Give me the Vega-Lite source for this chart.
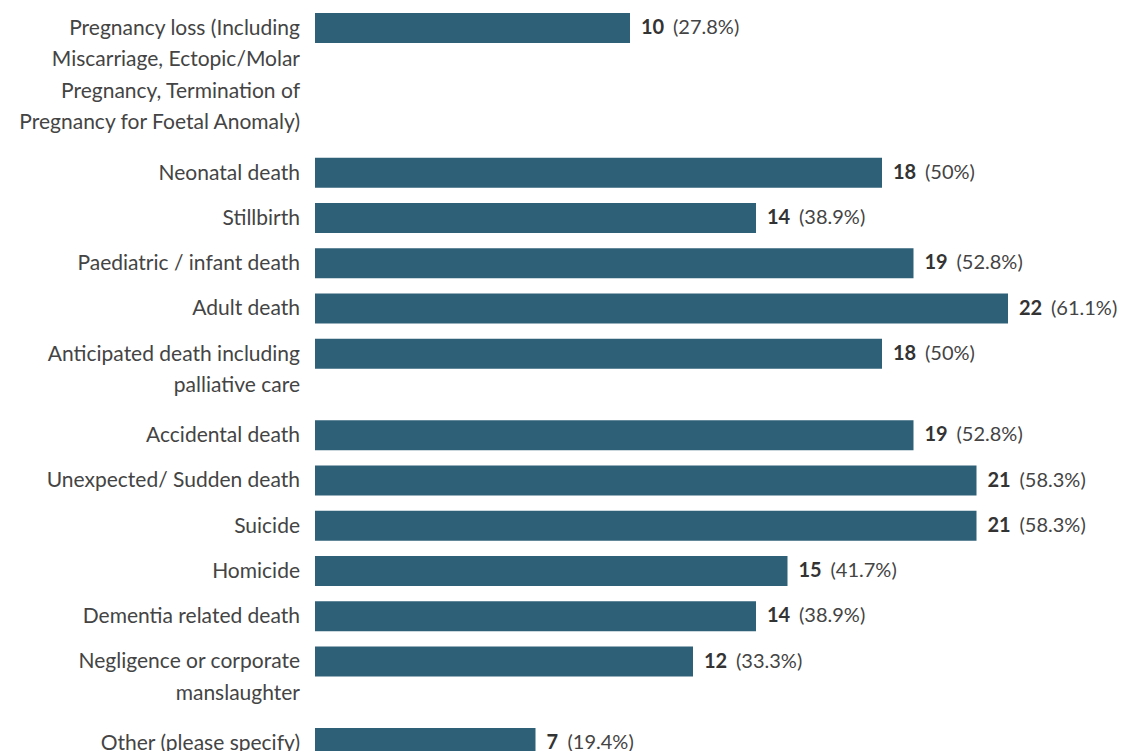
{
  "$schema": "https://vega.github.io/schema/vega-lite/v6.json",
  "width": 693,
  "height": 724,
  "autosize": {"type": "none"},
  "padding": {"left": 315, "top": 23.5, "right": 114, "bottom": 3.5},
  "background": "white",
  "data": {
    "values": [
      {"item": "Pregnancy loss (Including\nMiscarriage, Ectopic/Molar\nPregnancy, Termination of\nPregnancy for Foetal Anomaly)", "count": 10, "pct": 27.8},
      {"item": "Neonatal death", "count": 18, "pct": 50},
      {"item": "Stillbirth", "count": 14, "pct": 38.9},
      {"item": "Paediatric / infant death", "count": 19, "pct": 52.8},
      {"item": "Adult death", "count": 22, "pct": 61.1},
      {"item": "Anticipated death including\npalliative care", "count": 18, "pct": 50},
      {"item": "Accidental death", "count": 19, "pct": 52.8},
      {"item": "Unexpected/ Sudden death", "count": 21, "pct": 58.3},
      {"item": "Suicide", "count": 21, "pct": 58.3},
      {"item": "Homicide", "count": 15, "pct": 41.7},
      {"item": "Dementia related death", "count": 14, "pct": 38.9},
      {"item": "Negligence or corporate\nmanslaughter", "count": 12, "pct": 33.3},
      {"item": "Other (please specify)", "count": 7, "pct": 19.4}
    ]
  },
  "transform": [{"calculate": "'(' + datum.pct + '%)'", "as": "share"}],
  "encoding": {
    "y": {
      "field": "item",
      "type": "nominal",
      "axis": null,
      "sort": null,
      "scale": {
        "paddingInner": 0,
        "paddingOuter": 0,
        "domain": [
          "Pregnancy loss (Including\nMiscarriage, Ectopic/Molar\nPregnancy, Termination of\nPregnancy for Foetal Anomaly)",
          "_1", "_2", "_3", "_4", "_5", "_6", "_7", "_8", "_9", "_10", "_11", "_12", "_13", "_14", "_15",
          "Neonatal death",
          "_16", "_17", "_18", "_19",
          "Stillbirth",
          "_20", "_21", "_22", "_23",
          "Paediatric / infant death",
          "_24", "_25", "_26", "_27",
          "Adult death",
          "_28", "_29", "_30", "_31",
          "Anticipated death including\npalliative care",
          "_32", "_33", "_34", "_35", "_36", "_37", "_38", "_39",
          "Accidental death",
          "_40", "_41", "_42", "_43",
          "Unexpected/ Sudden death",
          "_44", "_45", "_46", "_47",
          "Suicide",
          "_48", "_49", "_50", "_51",
          "Homicide",
          "_52", "_53", "_54", "_55",
          "Dementia related death",
          "_56", "_57", "_58", "_59",
          "Negligence or corporate\nmanslaughter",
          "_60", "_61", "_62", "_63", "_64", "_65", "_66", "_67",
          "Other (please specify)"
        ]
      }
    }
  },
  "layer": [
    {
      "mark": {"type": "bar", "size": 30, "color": "#2e6078"},
      "encoding": {
        "x": {
          "field": "count",
          "type": "quantitative",
          "axis": null,
          "scale": {"domain": [0, 22], "nice": false, "zero": true}
        }
      }
    },
    {
      "mark": {
        "type": "text",
        "align": "right",
        "baseline": "line-top",
        "lineBreak": "\n",
        "lineHeight": 31.5,
        "dx": -15,
        "dy": -15.25,
        "font": "Lato",
        "fontSize": 21,
        "color": "#444444"
      },
      "encoding": {
        "x": {"datum": 0, "type": "quantitative"},
        "text": {"field": "item", "type": "nominal"}
      }
    },
    {
      "mark": {
        "type": "text",
        "align": "left",
        "baseline": "middle",
        "dx": 11,
        "font": "Lato",
        "fontSize": 20,
        "fontWeight": "bold",
        "color": "#333333"
      },
      "encoding": {
        "x": {"field": "count", "type": "quantitative"},
        "text": {"field": "count", "type": "quantitative"}
      }
    },
    {
      "transform": [{"filter": "datum.count >= 10"}],
      "mark": {
        "type": "text",
        "align": "left",
        "baseline": "middle",
        "dx": 43,
        "font": "Lato",
        "fontSize": 20,
        "color": "#444444"
      },
      "encoding": {
        "x": {"field": "count", "type": "quantitative"},
        "text": {"field": "share", "type": "nominal"}
      }
    },
    {
      "transform": [{"filter": "datum.count < 10"}],
      "mark": {
        "type": "text",
        "align": "left",
        "baseline": "middle",
        "dx": 32,
        "font": "Lato",
        "fontSize": 20,
        "color": "#444444"
      },
      "encoding": {
        "x": {"field": "count", "type": "quantitative"},
        "text": {"field": "share", "type": "nominal"}
      }
    }
  ],
  "config": {"view": {"stroke": null}}
}
